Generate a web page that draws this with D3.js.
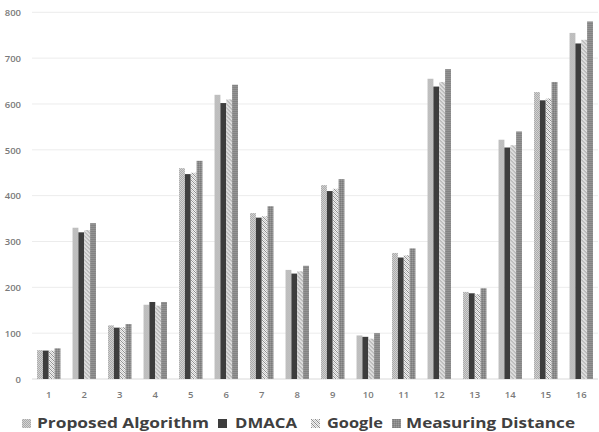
<!DOCTYPE html>
<html><head><meta charset="utf-8">
<script src="https://cdn.jsdelivr.net/npm/d3@7"></script>
<style>body{margin:0;background:#fff}svg{display:block}</style>
</head><body><svg id="c" width="599" height="432"></svg>
<script>
const categories = ["1","2","3","4","5","6","7","8","9","10","11","12","13","14","15","16"];
const seriesNames = ["Proposed Algorithm","DMACA","Google","Measuring Distance"];
const proposed = [63,330,117,162,460,620,362,238,423,95,275,655,190,522,626,755];
const dmaca    = [62,320,112,168,447,602,352,230,410,92,265,638,187,505,608,732];
const google   = [62,325,113,160,450,610,355,235,415,88,270,648,185,510,612,740];
const measuring= [67,340,120,168,476,642,377,247,436,100,285,676,198,540,648,780];
const yTicks = [0,100,200,300,400,500,600,700,800];
const series = [proposed, dmaca, google, measuring];

const svg = d3.select("#c");
const defs = svg.append("defs");
let p = defs.append("pattern").attr("id","pA").attr("width",2).attr("height",2).attr("patternUnits","userSpaceOnUse");
p.append("rect").attr("width",2).attr("height",2).attr("fill","#d4d4d4");
p.append("rect").attr("width",1).attr("height",1).attr("fill","#a9a9a9");
p.append("rect").attr("x",1).attr("y",1).attr("width",1).attr("height",1).attr("fill","#a9a9a9");
p = defs.append("pattern").attr("id","pG").attr("width",4).attr("height",4).attr("patternUnits","userSpaceOnUse");
p.append("rect").attr("width",4).attr("height",4).attr("fill","#f2f2f2");
[[0,0],[1,1],[2,2],[3,3],[2,0],[3,1],[0,2],[1,3]].forEach(([x,y],i)=>{
  p.append("rect").attr("x",x).attr("y",y).attr("width",1).attr("height",1).attr("fill", i<4?"#8c8c8c":"#c8c8c8");
});
p = defs.append("pattern").attr("id","pM").attr("width",2).attr("height",2).attr("patternUnits","userSpaceOnUse");
p.append("rect").attr("width",2).attr("height",2).attr("fill","#8a8a8a");
p.append("rect").attr("width",1).attr("height",1).attr("fill","#9c9c9c");
p.append("rect").attr("x",1).attr("y",1).attr("width",1).attr("height",1).attr("fill","#7c7c7c");
const fills = ["url(#pA)","#3d3d3d","url(#pG)","url(#pM)"];

const x0 = d3.scaleBand().domain(categories).range([31,599]).paddingInner(0.34).paddingOuter(0.17);
const x1 = d3.scaleBand().domain(d3.range(4)).range([0,x0.bandwidth()]);
const y = d3.scaleLinear().domain([0,800]).range([379,12.3]);

svg.append("g").selectAll("line").data(yTicks).join("line")
  .attr("x1",32).attr("x2",598).attr("y1",d=>y(d)).attr("y2",d=>y(d))
  .attr("stroke",d=>d===0?"#d9d9d9":"#ececec").attr("stroke-width",1);

const yAxis = d3.axisLeft(y).tickValues(yTicks).tickSize(0).tickPadding(0);
const gy = svg.append("g").attr("transform","translate(21,0)").call(yAxis);
gy.select(".domain").remove();
gy.selectAll("text").attr("fill","#7a7a7a").style("font-family","'Open Sans',sans-serif").style("font-size","9.5px").style("font-weight","600").attr("dy","0.35em");

const xAxis = d3.axisBottom(x0).tickSize(0).tickPadding(0);
const gx = svg.append("g").attr("transform","translate(0,391)").call(xAxis);
gx.select(".domain").remove();
gx.selectAll("text").attr("fill","#7a7a7a").style("font-family","'Open Sans',sans-serif").style("font-size","9.5px").style("font-weight","600").attr("dy","0.75em");

categories.forEach((c,ci)=>{
  const g = svg.append("g").attr("transform",`translate(${x0(c)},0)`);
  g.selectAll("rect").data(series.map((s,si)=>({si,v:s[ci]}))).join("rect")
    .attr("x",d=>x1(d.si)).attr("width",x1.bandwidth())
    .attr("y",d=>y(d.v)).attr("height",d=>y(0)-y(d.v))
    .attr("fill",d=>fills[d.si]);
});

const legX = [[22,37],[218,235],[311,327],[392,406]];
const legW = [172,62,56,169];
const lg = svg.append("g");
seriesNames.forEach((n,i)=>{
  lg.append("rect").attr("x",legX[i][0]).attr("y",419).attr("width",9).attr("height",9).attr("fill",fills[i]);
  lg.append("text").attr("x",legX[i][1]).attr("y",428).text(n)
    .attr("fill","#404040").style("font-family","'Open Sans',sans-serif").style("font-weight","bold").style("font-size","14px")
    .attr("textLength",legW[i]).attr("lengthAdjust","spacingAndGlyphs");
});
</script></body></html>
